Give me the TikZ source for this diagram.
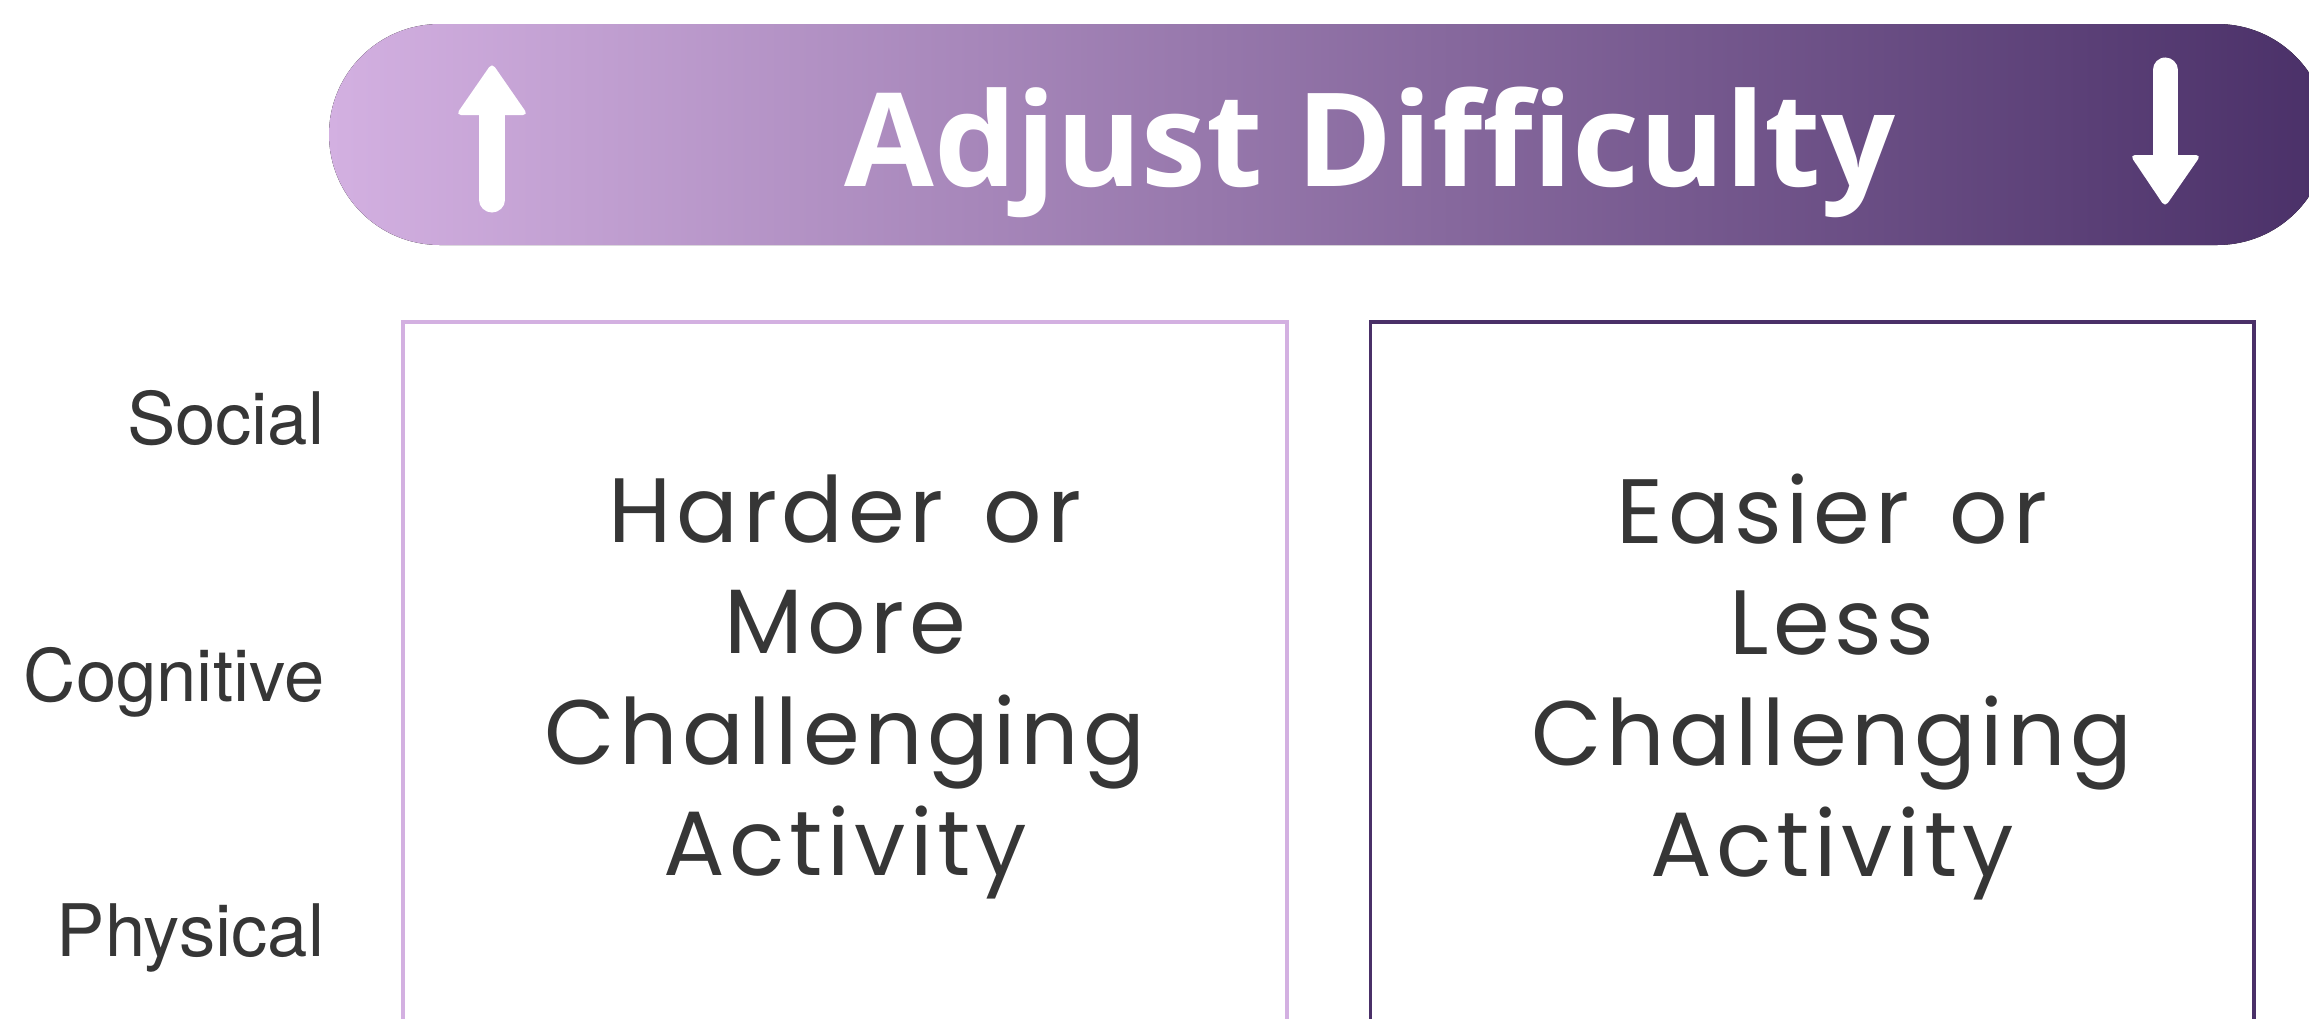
\documentclass[tikz,border=0pt]{standalone}
\usepackage{fontspec}
\setmainfont{TeX Gyre Heros}
\newfontfamily\titlefont{Open Sans}
\newfontfamily\boxfont[LetterSpace=5,WordSpace=1.4]{Poppins}
\definecolor{lav}{HTML}{D3B0E1}
\definecolor{plum}{HTML}{4A3068}
\definecolor{ink}{HTML}{363636}
\tikzset{
    sidelabel/.style={anchor=base east, inner sep=0pt, text=ink, font=\fontsize{20.6pt}{25pt}\selectfont},
    boxlabel/.style={align=center, inner sep=0pt, text=ink, font=\boxfont\fontsize{26pt}{31.6pt}\selectfont},
    levelbox/.style={draw=#1, line width=1pt, minimum width=8.83cm, minimum height=7.2cm},
    shaft/.style={white, line width=0.25cm, line cap=round},
    tip/.style={white, rounded corners=0.05cm}
}
\begin{document}
\begin{tikzpicture}[x=0.01cm, y=-0.01cm]
    \useasboundingbox (0,0) rectangle (2309,1018);
    \clip (0,0) rectangle (2309,1018);
    % banner
    \fill[left color=lav, right color=plum, rounded corners=1.105cm] (329,24) rectangle (2328,245);
    \node[anchor=base, inner sep=0pt, text=white, font=\titlefont\bfseries\fontsize{37pt}{44pt}\selectfont] (title) at (1370,186) {Adjust Difficulty};
    \draw[shaft] (492,200) -- (492,110);
    \fill[tip] (456,115) -- (492,63) -- (528,115) -- cycle;
    \draw[shaft] (2165,70) -- (2165,160);
    \fill[tip] (2130,155) -- (2165,207) -- (2201,155) -- cycle;
    % boxes
    \node[levelbox=lav] (harder) at (845,682) {};
    \node[levelbox=plum] (easier) at (1812,682) {};
    \node[boxlabel] (hardertext) at (845,687) {Harder or\\More\\Challenging\\Activity};
    \node[boxlabel] (easiertext) at (1832,687) {Easier or\\Less\\Challenging\\Activity};
    % domains
    \node[sidelabel] (social) at (325,444) {Social};
    \node[sidelabel] (cognitive) at (325,701) {Cognitive};
    \node[sidelabel] (physical) at (325,956) {Physical};
\end{tikzpicture}
\end{document}
